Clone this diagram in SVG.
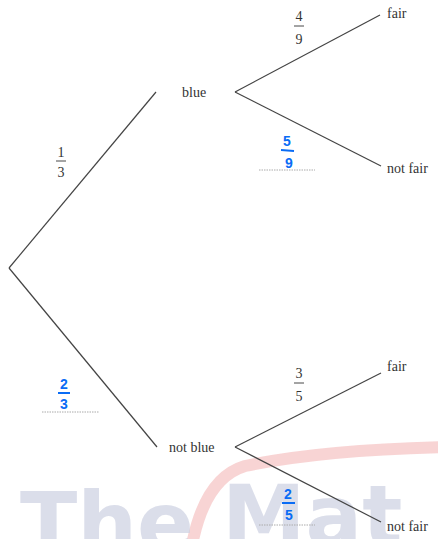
<svg xmlns="http://www.w3.org/2000/svg" width="438" height="539" viewBox="0 0 438 539">
<style>
.lbl{font-family:"Liberation Serif","Times New Roman",serif;font-size:14px;fill:#333}
.frac{font-family:"Liberation Serif","Times New Roman",serif;font-size:14px;fill:#333;text-anchor:middle}
.hand{font-family:"Liberation Sans",Arial,sans-serif;font-weight:bold;font-size:14px;fill:#0a6cf5;text-anchor:middle}
.br{stroke:#444;stroke-width:1.2;fill:none}
.bar{stroke:#333;stroke-width:0.9}
.hbar{stroke:#0a6cf5;stroke-width:2}
.dot{stroke:#aaa;stroke-width:1;stroke-dasharray:1.5 1}
.wm{font-family:"DejaVu Sans",sans-serif;font-weight:bold;font-size:84px;fill:#cdd1e2;opacity:0.7}
</style>
<rect width="438" height="539" fill="#fff"/>
<g id="watermark">
<path d="M192 545 Q205 478 245 466 Q320 450 445 447" stroke="#f5c6c6" stroke-width="12" fill="none" opacity="0.75"/>
<text class="wm" x="20" y="552">The</text>
<text class="wm" x="222" y="545">Mat</text>
</g>
<g id="connectors">
<line class="br" x1="9" y1="268" x2="156" y2="92"/>
<line class="br" x1="9" y1="268" x2="157" y2="447"/>
<line class="br" x1="235" y1="92" x2="380" y2="15"/>
<line class="br" x1="235" y1="92" x2="381" y2="166"/>
<line class="br" x1="235" y1="447" x2="381" y2="373"/>
<line class="br" x1="235" y1="447" x2="381" y2="522"/>
</g>
<g id="node-blue"><text class="lbl" x="182" y="97">blue</text></g>
<g id="node-notblue"><text class="lbl" x="169" y="452">not blue</text></g>
<g id="node-fair1"><text class="lbl" x="387" y="18">fair</text></g>
<g id="node-notfair1"><text class="lbl" x="387" y="173">not fair</text></g>
<g id="node-fair2"><text class="lbl" x="387" y="371">fair</text></g>
<g id="node-notfair2"><text class="lbl" x="387" y="531">not fair</text></g>
<g id="p13">
<text class="frac" x="61" y="157">1</text>
<line class="bar" x1="56" y1="161" x2="66" y2="161"/>
<text class="frac" x="61" y="177">3</text>
</g>
<g id="p49">
<text class="frac" x="299" y="21">4</text>
<line class="bar" x1="294" y1="26" x2="304" y2="26"/>
<text class="frac" x="299" y="44">9</text>
</g>
<g id="p35">
<text class="frac" x="299" y="378">3</text>
<line class="bar" x1="294" y1="383" x2="304" y2="383"/>
<text class="frac" x="299" y="401">5</text>
</g>
<g id="p59">
<text class="hand" x="287" y="146">5</text>
<line class="hbar" x1="281" y1="150" x2="294" y2="151"/>
<text class="hand" x="289" y="168">9</text>
<line class="dot" x1="259" y1="170" x2="315" y2="170"/>
</g>
<g id="p23">
<text class="hand" x="64" y="389">2</text>
<line class="hbar" x1="58" y1="393" x2="70" y2="393"/>
<text class="hand" x="64" y="409">3</text>
<line class="dot" x1="42" y1="412" x2="99" y2="412"/>
</g>
<g id="p25">
<text class="hand" x="288" y="499">2</text>
<line class="hbar" x1="282" y1="503" x2="295" y2="503"/>
<text class="hand" x="289" y="520">5</text>
<line class="dot" x1="259" y1="525" x2="315" y2="525"/>
</g>
</svg>
